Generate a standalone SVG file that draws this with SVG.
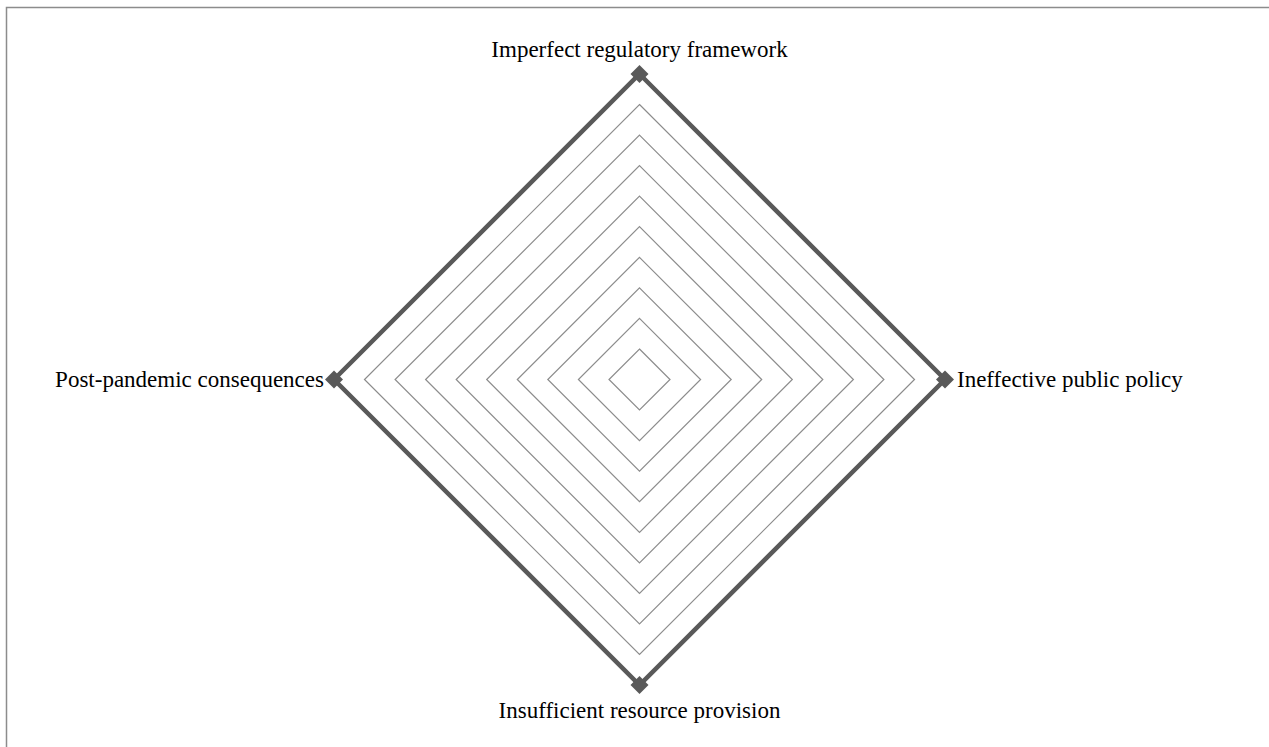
<svg xmlns="http://www.w3.org/2000/svg" width="1269" height="747" viewBox="0 0 1269 747">
<style>
.grid{fill:none;stroke:#8c8c8c;stroke-width:1.2}
.series{fill:none;stroke:#595959;stroke-width:4.5;stroke-linejoin:miter}
.mk{fill:#595959}
.lbl{font-family:"Liberation Serif","Times New Roman",serif;font-size:23px;fill:#000}
</style>
<defs>
<path id="m" d="M0,-9 L9,0 L0,9 L-9,0 Z"/>
</defs>
<rect x="0" y="0" width="1269" height="747" fill="#fff"/>
<rect x="6.5" y="7.5" width="1280" height="760" fill="none" stroke="#8c8c8c" stroke-width="1.5"/>
<g id="grid">
<polygon class="grid" points="639.5,349 670,379.5 639.5,410 609,379.5"/>
<polygon class="grid" points="639.5,318.4 700.6,379.5 639.5,440.6 578.4,379.5"/>
<polygon class="grid" points="639.5,287.8 731.2,379.5 639.5,471.2 547.8,379.5"/>
<polygon class="grid" points="639.5,257.3 761.7,379.5 639.5,501.7 517.3,379.5"/>
<polygon class="grid" points="639.5,226.7 792.3,379.5 639.5,532.3 486.7,379.5"/>
<polygon class="grid" points="639.5,196.2 822.8,379.5 639.5,562.8 456.2,379.5"/>
<polygon class="grid" points="639.5,165.6 853.4,379.5 639.5,593.4 425.6,379.5"/>
<polygon class="grid" points="639.5,135.1 883.9,379.5 639.5,623.9 395.1,379.5"/>
<polygon class="grid" points="639.5,104.5 914.5,379.5 639.5,654.5 364.5,379.5"/>
</g>
<g id="connectors">
<polygon class="series" points="639.5,74 945,379.5 639.5,685 334,379.5"/>
</g>
<g id="node-top">
<use href="#m" class="mk" x="639.5" y="74"/>
<text class="lbl" x="639.5" y="57" text-anchor="middle">Imperfect regulatory framework</text>
</g>
<g id="node-right">
<use href="#m" class="mk" x="945" y="379.5"/>
<text class="lbl" x="957" y="387">Ineffective public policy</text>
</g>
<g id="node-bottom">
<use href="#m" class="mk" x="639.5" y="685"/>
<text class="lbl" x="639.5" y="718" text-anchor="middle">Insufficient resource provision</text>
</g>
<g id="node-left">
<use href="#m" class="mk" x="334" y="379.5"/>
<text class="lbl" x="324" y="387" text-anchor="end">Post-pandemic consequences</text>
</g>
</svg>
